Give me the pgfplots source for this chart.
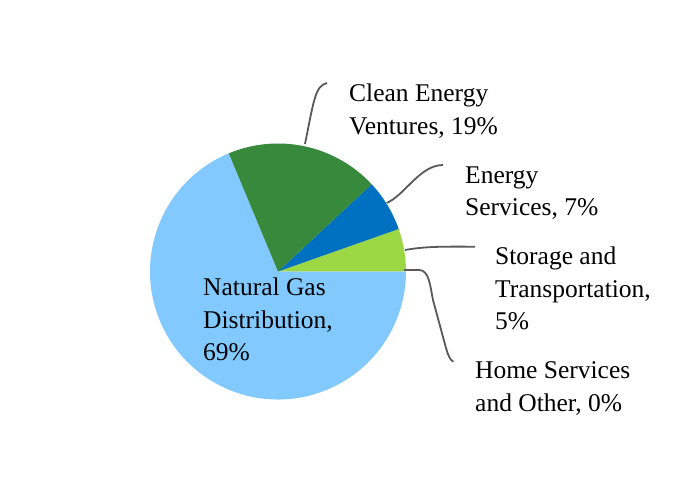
\documentclass[border=0pt]{standalone}
\usepackage{pgfplots}
\pgfplotsset{compat=1.18}
\usepackage{fontspec}
\setmainfont{Liberation Serif}
\definecolor{gasblue}{RGB}{130,201,255}
\definecolor{cleangreen}{RGB}{55,138,59}
\definecolor{servblue}{RGB}{0,112,192}
\definecolor{storlime}{RGB}{155,216,67}
\definecolor{leader}{RGB}{89,89,89}
% shares in percent (counter-clockwise from 3 o'clock)
\def\pHome{0.0}
\def\pStor{5.39}
\def\pServ{6.56}
\def\pClean{19.33}
\def\pGas{68.72}
\tikzset{lab/.style={anchor=base west, inner sep=0pt, text=black, font=\rmfamily\fontsize{25.5bp}{33bp}\selectfont}}
\begin{document}
\begin{tikzpicture}
\path[use as bounding box] (0,0) rectangle (700bp,500bp);
\begin{axis}[
  scale only axis, width=700bp, height=500bp,
  xmin=0, xmax=700, ymin=0, ymax=500,
  hide axis, clip=false,
  anchor=south west, at={(0,0)}]
\pgfmathsetmacro{\aA}{3.6*\pHome}
\pgfmathsetmacro{\aB}{\aA+3.6*\pStor}
\pgfmathsetmacro{\aC}{\aB+3.6*\pServ}
\pgfmathsetmacro{\aD}{\aC+3.6*\pClean}
\pgfmathsetmacro{\aE}{\aD+3.6*\pGas}
\fill[gasblue] (axis cs:278,228.5) -- +(\aD:128bp) arc[start angle=\aD, end angle=\aE, radius=128bp] -- cycle;
\fill[storlime] (axis cs:278,228.5) -- +(\aA:128bp) arc[start angle=\aA, end angle=\aB, radius=128bp] -- cycle;
\fill[servblue] (axis cs:278,228.5) -- +(\aB:128bp) arc[start angle=\aB, end angle=\aC, radius=128bp] -- cycle;
\fill[cleangreen] (axis cs:278,228.5) -- +(\aC:128bp) arc[start angle=\aC, end angle=\aD, radius=128bp] -- cycle;
% leader lines
\draw[leader, line width=1.8bp] (axis cs:305,356) .. controls (axis cs:314,400) and (axis cs:315,414) .. (axis cs:327,417);
\draw[leader, line width=1.8bp] (axis cs:386.7,297) .. controls (axis cs:405,305) and (axis cs:420,335) .. (axis cs:443,335);
\draw[leader, line width=1.8bp] (axis cs:405,250) .. controls (axis cs:425,253.5) and (axis cs:440,253.5) .. (axis cs:475,253.3);
\draw[leader, line width=1.8bp] (axis cs:404,230) -- (axis cs:419,230) .. controls (axis cs:429,230) and (axis cs:430,215) .. (axis cs:433,200) -- (axis cs:446,152) .. controls (axis cs:448,145) and (axis cs:450,140) .. (axis cs:453.3,138.3);
% labels
\node[lab] at (axis cs:349,398) {Clean Energy};
\node[lab] at (axis cs:349,365.5) {Ventures, 19\%};
\node[lab] at (axis cs:465,316.5) {Energy};
\node[lab] at (axis cs:465,284) {Services, 7\%};
\node[lab] at (axis cs:495,235) {Storage and};
\node[lab] at (axis cs:495,202) {Transportation,};
\node[lab] at (axis cs:495,170) {5\%};
\node[lab] at (axis cs:475,121.7) {Home Services};
\node[lab] at (axis cs:475,88.3) {and Other, 0\%};
\node[lab] at (axis cs:203,204) {Natural Gas};
\node[lab] at (axis cs:203,171.7) {Distribution,};
\node[lab] at (axis cs:203,139.3) {69\%};
\end{axis}
\end{tikzpicture}
\end{document}
